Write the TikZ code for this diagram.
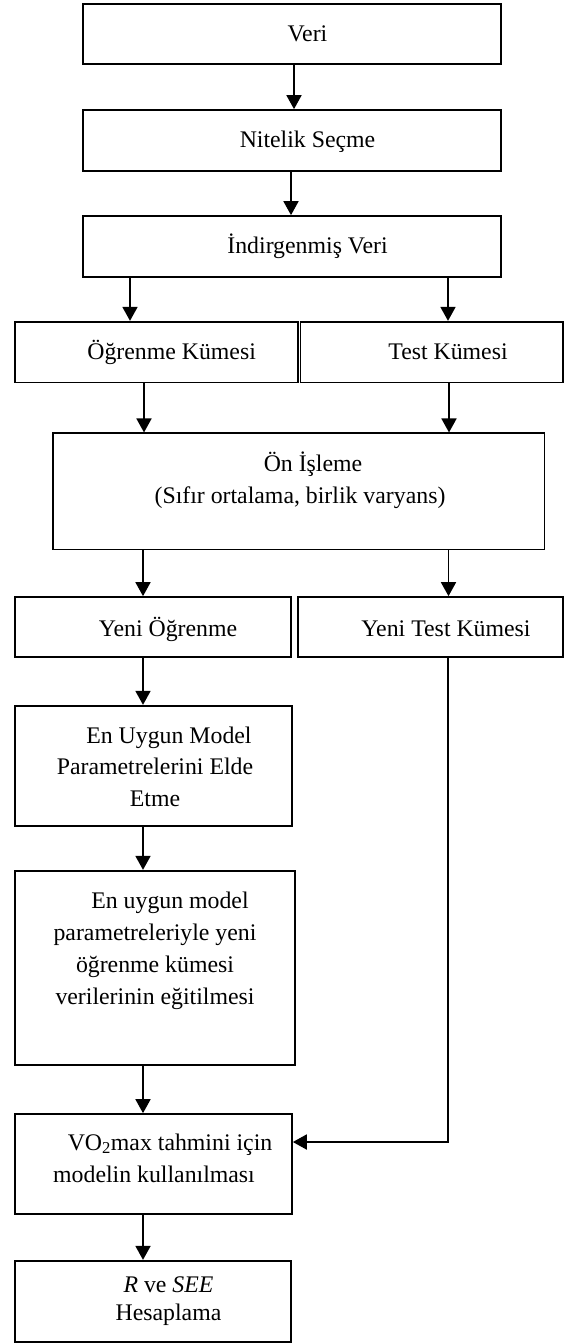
\documentclass[tikz,border=0pt]{standalone}
\usepackage{fontspec}
\setmainfont{Liberation Serif}
\usetikzlibrary{arrows.meta,fit}
\begin{document}
\begin{tikzpicture}[x=1pt,y=-1pt,
  box/.style={draw, line width=1.7pt, inner sep=0pt, rectangle},
  txt/.style={anchor=base, inner sep=0pt, font=\fontsize{23.8}{31.8}\selectfont, align=center},
  arr/.style={line width=1.8pt, -{Triangle[width=15pt,length=14pt]}}]
\useasboundingbox (0,0) rectangle (564,1343);

% boxes
\node[box, fit={(83,4.3) (501,64.3)}] (veri) {};
\node[box, fit={(83,110) (501,170.7)}] (nitelik) {};
\node[box, fit={(83,216) (501,276.7)}] (indir) {};
\node[box, fit={(15,321.7) (298,382.5)}] (ogr) {};
\node[box, fit={(300.5,321.7) (563,382.5)}] (test) {};
\node[box, fit={(53,433.3) (544.5,549.5)}] (onis) {};
\node[box, fit={(15,597) (291,657)}] (yogr) {};
\node[box, fit={(298,597) (563,657)}] (ytest) {};
\node[box, fit={(15,705.7) (292,825.7)}] (uygun) {};
\node[box, fit={(15,870.7) (295,1065)}] (egit) {};
\node[box, fit={(15,1114) (292,1214)}] (vo) {};
\node[box, fit={(15,1260.7) (291,1341.7)}] (rsee) {};

% labels (multi-line labels sit on the baseline of their last line)
\node[txt] (tveri) at (307.5,41.7) {Veri};
\node[txt] (tnit) at (307.5,147.7) {Nitelik Seçme};
\node[txt] (tind) at (307.5,253.5) {İndirgenmiş Veri};
\node[txt] (togr) at (171.6,359.3) {Öğrenme Kümesi};
\node[txt] (ttest) at (448,359.3) {Test Kümesi};
\node[txt] (tonis) at (300,503) {\hspace*{26pt}Ön İşleme\\(Sıfır ortalama, birlik varyans)};
\node[txt] (tyogr) at (168,636) {Yeni Öğrenme};
\node[txt] (tytest) at (446,636) {Yeni Test Kümesi};
\node[txt] (tuygun) at (155,806.7) {\hspace*{28pt}En Uygun Model\\Parametrelerini Elde\\Etme};
\node[txt] (tegit) at (155,1004) {\hspace*{30pt}En uygun model\\parametreleriyle yeni\\öğrenme kümesi\\verilerinin eğitilmesi};
\node[txt] (tvo) at (154,1182) {\hspace*{32pt}VO\textsubscript{2}max tahmini için\\modelin kullanılması};
\node[txt, font=\fontsize{23.8}{28.3}\selectfont] (trsee) at (168.5,1320.5) {\textit{R} ve \textit{SEE}\\Hesaplama};

% arrow columns
\coordinate (c1) at (294,0);
\coordinate (c2) at (291,0);
\coordinate (cl) at (130,0);
\coordinate (cr) at (448,0);
\coordinate (dl) at (144,0);
\coordinate (dr) at (449,0);
\coordinate (el) at (143,0);
\coordinate (er) at (448.5,0);
\coordinate (bend) at (448.3,1142);

% connectors
\draw[arr] (c1 |- veri.south) -- (c1 |- nitelik.north);
\draw[arr] (c2 |- nitelik.south) -- (c2 |- indir.north);
\draw[arr] (cl |- indir.south) -- (cl |- ogr.north);
\draw[arr] (cr |- indir.south) -- (cr |- test.north);
\draw[arr] (dl |- ogr.south) -- (dl |- onis.north);
\draw[arr] (dr |- test.south) -- (dr |- onis.north);
\draw[arr] (el |- onis.south) -- (el |- yogr.north);
\draw[arr] (er |- onis.south) -- (er |- ytest.north);
\draw[arr] (el |- yogr.south) -- (el |- uygun.north);
\draw[arr] (el |- uygun.south) -- (el |- egit.north);
\draw[arr] (el |- egit.south) -- (el |- vo.north);
\draw[arr] (bend |- ytest.south) -- (bend) -- (bend -| vo.east);
\draw[arr] (el |- vo.south) -- (el |- rsee.north);
\end{tikzpicture}
\end{document}
